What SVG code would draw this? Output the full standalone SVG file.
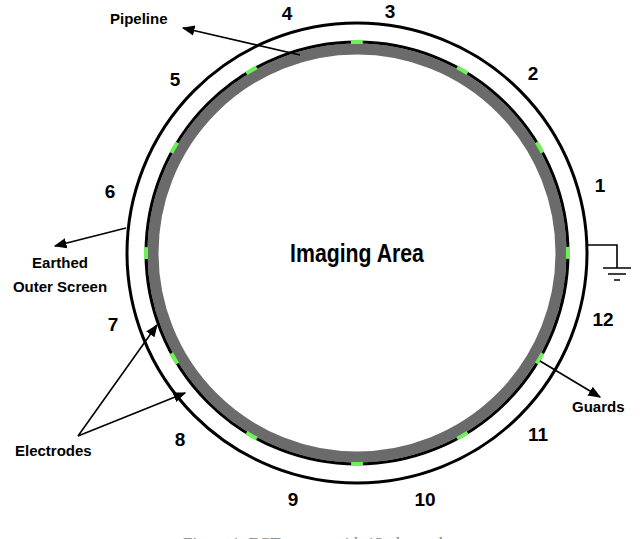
<svg xmlns="http://www.w3.org/2000/svg" width="640" height="539" viewBox="0 0 640 539">
<defs>
<style>
.n{font-family:"Liberation Sans",Arial,sans-serif;font-weight:bold;font-size:19px;fill:#000;text-anchor:middle}
.l{font-family:"Liberation Sans",Arial,sans-serif;font-weight:bold;font-size:15px;fill:#000}
.ln{stroke:#000;stroke-width:1.6;fill:none}
.g{stroke:#6fef5a;stroke-width:4;fill:none;stroke-dasharray:12 98.47;stroke-dashoffset:6}
</style>
<marker id="ah" viewBox="0 0 10 10" refX="9" refY="5" markerWidth="8" markerHeight="8" orient="auto-start-reverse"><path d="M0,1 L10,5 L0,9 z" fill="#000"/></marker>
</defs>
<rect width="640" height="539" fill="#fff"/>
<g id="sensor">
<circle cx="357" cy="253" r="230" fill="none" stroke="#000" stroke-width="3"/>
<circle cx="357" cy="253" r="204" fill="none" stroke="#6b6b6b" stroke-width="11"/>
<circle cx="357" cy="253" r="211" fill="none" stroke="#000" stroke-width="3"/>
<circle cx="357" cy="253" r="211" class="g" pathLength="1325.8"/>
</g>
<g id="ground" class="ln">
<path d="M587,245 H617 V268"/>
<path d="M603,268 H631 M608,274 H626 M614,280 H620"/>
</g>
<g id="labels">
<text class="n" x="600" y="192">1</text>
<text class="n" x="533" y="80">2</text>
<text class="n" x="390" y="18">3</text>
<text class="n" x="287" y="20">4</text>
<text class="n" x="175" y="86">5</text>
<text class="n" x="110" y="198">6</text>
<text class="n" x="113" y="331">7</text>
<text class="n" x="180" y="446">8</text>
<text class="n" x="293" y="506">9</text>
<text class="n" x="425" y="506">10</text>
<text class="n" x="538" y="441">11</text>
<text class="n" x="603" y="326">12</text>
<text x="357" y="262" font-family="Liberation Sans,Arial,sans-serif" font-weight="bold" font-size="25" text-anchor="middle" transform="translate(357 0) scale(0.85 1) translate(-357 0)">Imaging Area</text>
<text class="l" x="110" y="24">Pipeline</text>
<text class="l" x="60" y="268" text-anchor="middle">Earthed</text>
<text class="l" x="60" y="292" text-anchor="middle">Outer Screen</text>
<text class="l" x="15" y="456">Electrodes</text>
<text class="l" x="572" y="412">Guards</text>
<text x="320" y="549" font-family="Liberation Serif,serif" font-size="17" fill="#888" text-anchor="middle">Figure 1. ECT sensor with 12 electrodes</text>
</g>
<g id="connectors" class="ln">
<line x1="300" y1="55" x2="183" y2="28" marker-end="url(#ah)"/>
<line x1="126" y1="228" x2="55" y2="246" marker-end="url(#ah)"/>
<line x1="157" y1="325" x2="78" y2="436" marker-start="url(#ah)"/>
<line x1="185" y1="393" x2="78" y2="436" marker-start="url(#ah)"/>
<line x1="540" y1="361" x2="600" y2="397" marker-end="url(#ah)"/>
</g>
</svg>
